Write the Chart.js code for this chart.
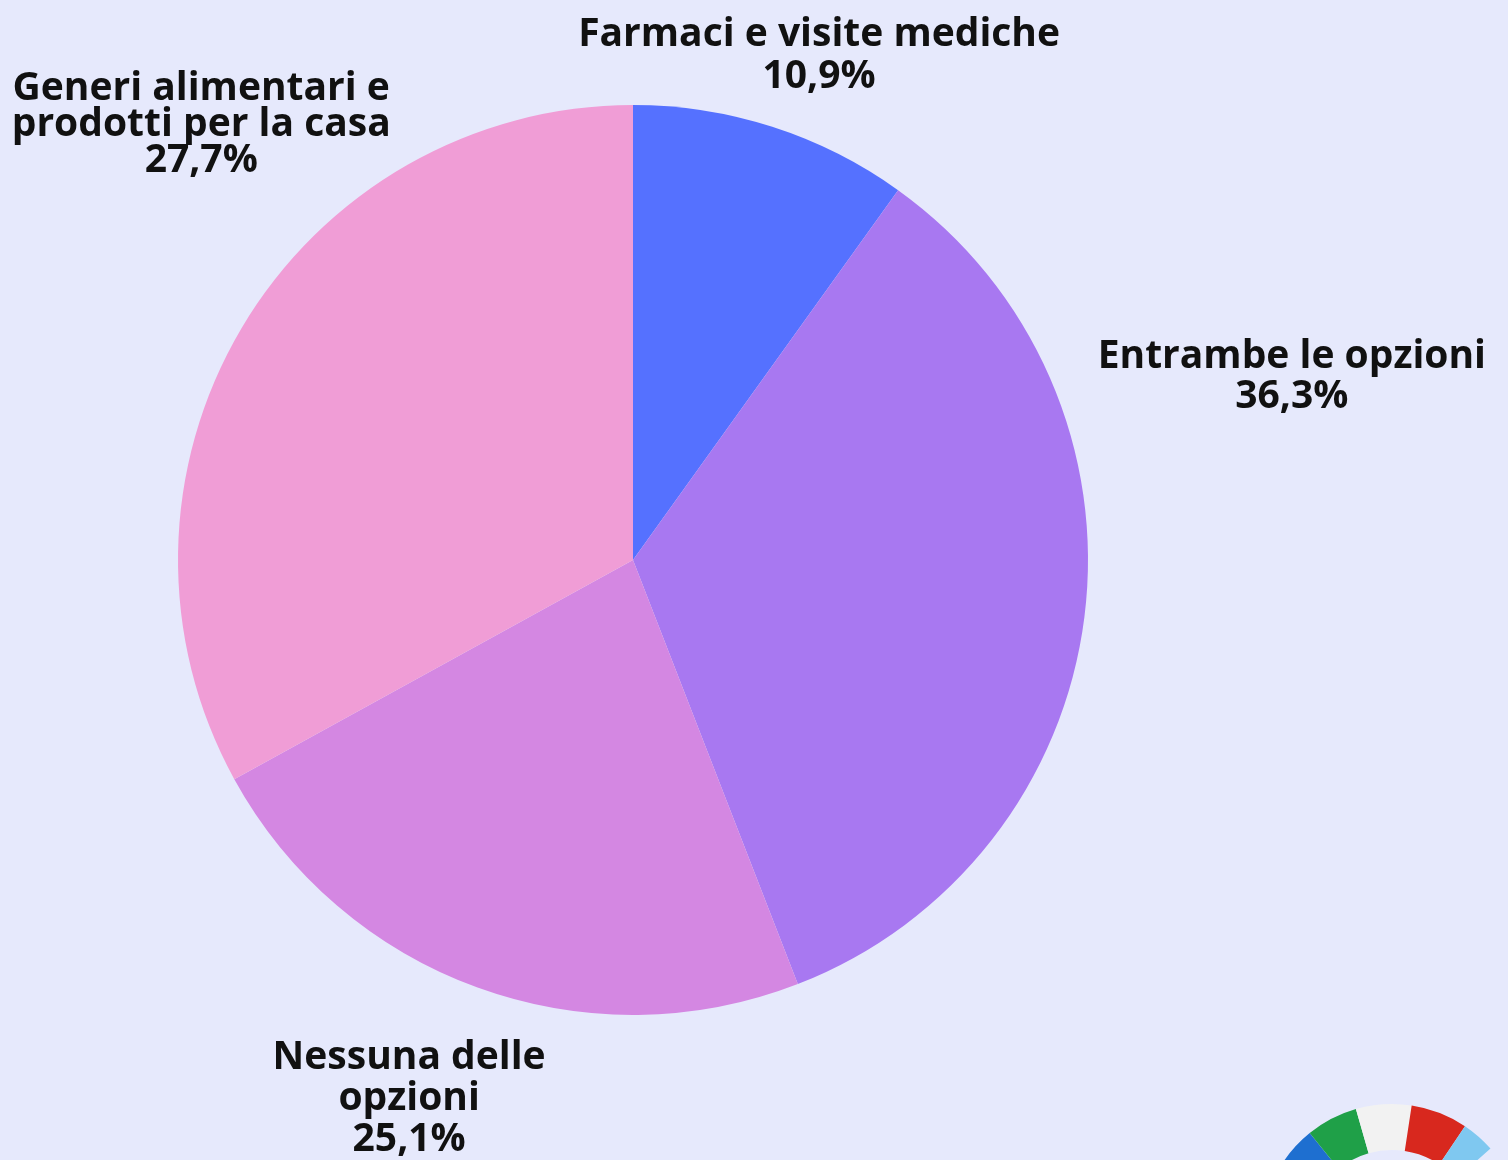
<!DOCTYPE html>
<html><head><meta charset="utf-8">
<script src="https://cdn.jsdelivr.net/npm/chart.js@4"></script>
<style>html,body{margin:0;padding:0;background:#E6E9FC;}#wrap{width:1508px;height:1160px;position:relative;}</style>
</head><body><div id="wrap"><canvas id="c" width="1508" height="1160"></canvas></div>
<script>
const categories = ["Farmaci e visite mediche", "Entrambe le opzioni", "Nessuna delle opzioni", "Generi alimentari e prodotti per la casa"];
// printed percentages (label text)
const percentLabels = ["10,9%", "36,3%", "25,1%", "27,7%"];
// slice shares as drawn in the reference (measured from wedge angles)
const sliceShares = [9.9, 34.2, 22.9, 33.0];
const labelLines = [["Farmaci e visite mediche"], ["Entrambe le opzioni"], ["Nessuna delle", "opzioni"], ["Generi alimentari e", "prodotti per la casa"]];
const colors = ["#5571FF", "#A878F1", "#D487E2", "#F09DD6"];
// label placement relative to pie centre, in units of radius (layout only)
const labelOffsets = [[0.409, -1.108], [1.448, -0.402], [-0.492, 1.185], [-0.949, -0.956]];
const lineHeights = [42, 40, 41, 36];

const labelPlugin = {
  id: 'outLabels',
  afterDatasetsDraw(chart){
    const ctx = chart.ctx;
    const meta = chart.getDatasetMeta(0);
    ctx.save();
    ctx.font = 'bold 39px "Open Sans"';
    ctx.fillStyle = '#111111';
    ctx.textAlign = 'center';
    ctx.textBaseline = 'middle';
    meta.data.forEach((arc, i) => {
      const cx = arc.x, cy = arc.y, r = arc.outerRadius;
      const lines = labelLines[i].concat([percentLabels[i]]);
      const lh = lineHeights[i];
      const x = cx + labelOffsets[i][0]*r;
      const y = cy + labelOffsets[i][1]*r;
      const top = y - (lines.length-1)*lh/2;
      lines.forEach((t, j) => ctx.fillText(t, x, top + j*lh));
    });
    ctx.restore();
  }
};

const logoPlugin = {
  id: 'logo',
  afterDraw(chart){
    const ctx = chart.ctx;
    ctx.save();
    const cx = 1392, cy = 1235, r = 108;
    ctx.lineWidth = 46;
    const segs = [["#1E6FD0", -2.6, -2.25], ["#1FA048", -2.25, -1.85], ["#F2F2F2", -1.85, -1.42], ["#D8281E", -1.42, -0.98], ["#7FC8F0", -0.98, -0.72]];
    segs.forEach(s => { ctx.strokeStyle = s[0]; ctx.beginPath(); ctx.arc(cx, cy, r, s[1], s[2]); ctx.stroke(); });
    ctx.restore();
  }
};

new Chart(document.getElementById('c'), {
  type: 'pie',
  data: { labels: categories, datasets: [{ data: sliceShares, backgroundColor: colors, borderWidth: 0 }] },
  options: {
    responsive: false,
    animation: false,
    layout: { padding: { left: 178, right: 420, top: 105, bottom: 145 } },
    plugins: { legend: { display: false }, tooltip: { enabled: false } }
  },
  plugins: [labelPlugin, logoPlugin]
});
</script></body></html>
